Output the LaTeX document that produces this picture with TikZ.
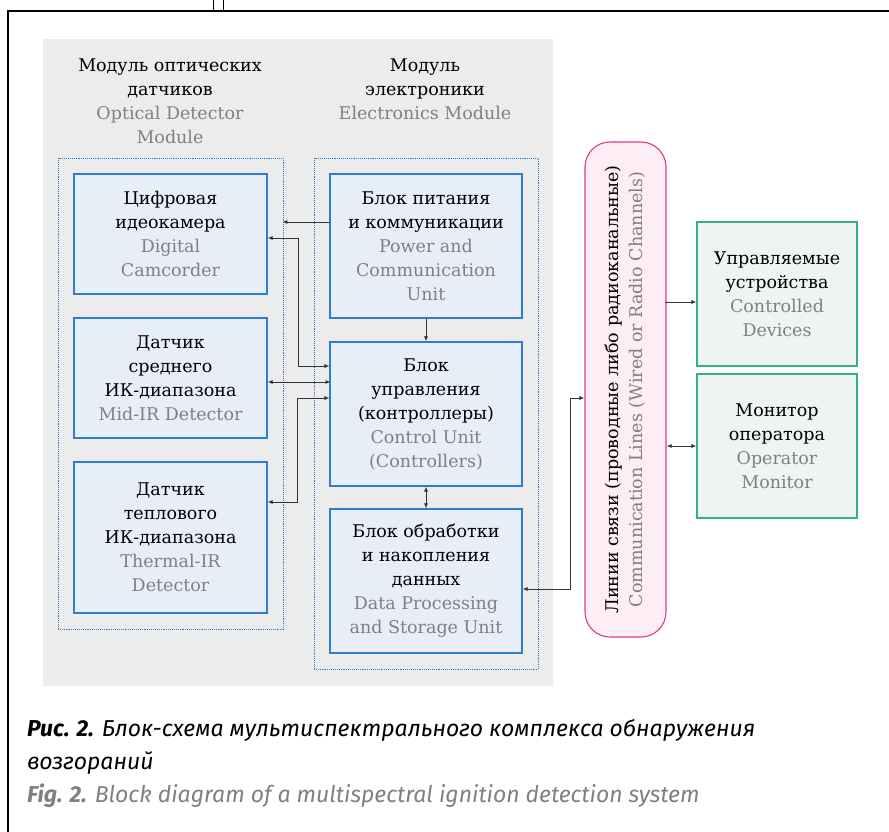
\documentclass[tikz,border=0pt]{standalone}
\usepackage{fontspec}
\setmainfont{DejaVu Serif}
\newfontfamily\capfont{Fira Sans}
\usetikzlibrary{arrows.meta}

\definecolor{blockfill}{HTML}{E8EEF8}
\definecolor{blockline}{HTML}{2F7FC8}
\definecolor{panelgray}{HTML}{ECECEC}
\definecolor{engray}{HTML}{808080}
\definecolor{devfill}{HTML}{EDF4F1}
\definecolor{devline}{HTML}{35B080}
\definecolor{commfill}{HTML}{FDEDF4}
\definecolor{commline}{HTML}{E0388C}
\definecolor{arrowgray}{HTML}{333333}

\newcommand{\eng}[1]{\textcolor{engray}{#1}}

\begin{document}
\begin{tikzpicture}[x=1pt, y=-1pt,
        font=\fontsize{17.5}{24}\selectfont,
        >={Latex[length=5pt, width=4pt]},
        block/.style={draw=blockline, fill=blockfill, line width=1.1pt,
            align=center, inner sep=0pt, minimum width=193pt},
        unitbox/.style={block, minimum width=192pt, minimum height=144pt},
        devbox/.style={draw=devline, fill=devfill, line width=1.1pt,
            align=center, inner sep=0pt, minimum width=160pt, minimum height=144pt},
        modbox/.style={draw=blockline, densely dotted, line width=0.9pt, inner sep=0pt},
        link/.style={arrowgray, line width=0.9pt}]
    \useasboundingbox (0,0) rectangle (889,832);
    % page frame
    \draw[line width=1.3pt] (889,11) -- (8,11) -- (8,832);
    \draw[line width=1pt] (213,0) -- (213,11) (223,0) -- (223,11);

    % grey panel with the two modules
    \fill[panelgray] (43,39) rectangle (553,686);
    \node[align=center] (optitle) at (170,101)
        {Модуль оптических\\датчиков\\\eng{Optical Detector}\\\eng{Module}};
    \node[align=center] (eltitle) at (425,89.5)
        {Модуль\\электроники\\\eng{Electronics Module}};
    \node[modbox, minimum width=225pt, minimum height=471pt] (optbox) at (170.5,393.5) {};
    \node[modbox, minimum width=224pt, minimum height=511pt] (elbox) at (426,413.5) {};

    \node[block, minimum height=120pt] (cam) at (170.5,234)
        {Цифровая\\идеокамера\\\eng{Digital}\\\eng{Camcorder}};
    \node[block, minimum height=120pt] (mid) at (170.5,378)
        {Датчик\\среднего\\ИК-диапазона\\\eng{Mid-IR Detector}};
    \node[block, minimum height=151pt] (therm) at (170.5,537.5)
        {Датчик\\теплового\\ИК-диапазона\\\eng{Thermal-IR}\\\eng{Detector}};

    \node[unitbox] (pwr) at (426,246)
        {Блок питания\\и коммуникации\\\eng{Power and}\\\eng{Communication}\\\eng{Unit}};
    \node[unitbox] (ctrl) at (426,414)
        {Блок\\управления\\(контроллеры)\\\eng{Control Unit}\\\eng{(Controllers)}};
    \node[unitbox] (data) at (426,581)
        {Блок обработки\\и накопления\\данных\\\eng{Data Processing}\\\eng{and Storage Unit}};

    % communication lines and outer devices
    \node[draw=commline, fill=commfill, line width=1.1pt, rounded corners=25pt,
        rotate=90, align=center, inner sep=0pt,
        minimum width=495pt, minimum height=81pt] (comm) at (625.5,389.5)
        {Линии связи (проводные либо радиоканальные)\\
         \eng{Communication Lines (Wired or Radio Channels)}};
    \node[devbox] (dev) at (777,294)
        {Управляемые\\устройства\\\eng{Controlled}\\\eng{Devices}};
    \node[devbox] (mon) at (777,446)
        {Монитор\\оператора\\\eng{Operator}\\\eng{Monitor}};

    % connectors
    \draw[link, ->] ([yshift=24pt]pwr.west) -- ++(-47,0);
    \draw[link, <->] ([yshift=-4pt]cam.east) -- ++(31,0) |- ([yshift=48pt]ctrl.west);
    \draw[link, <->] ([yshift=-4pt]mid.east) -- ++(63,0);
    \draw[link, <->] ([yshift=16pt]ctrl.west) -- ++(-32,0) |- ([yshift=35.5pt]therm.east);
    \draw[link, ->] (pwr) -- (ctrl);
    \draw[link, <->] (ctrl) -- (data);
    \draw[link, <->] ([yshift=-8pt]data.east) -- ++(48,0) |- ([yshift=-8.5pt]comm.north);
    \draw[link, <-] ([yshift=-8pt]dev.west) -- ++(-31,0);
    \draw[link, <->] (mon.west) -- (mon.west -| comm.south);

    % caption
    \node[anchor=north west, align=left, inner sep=0pt,
        font=\capfont\itshape\fontsize{23}{33}\selectfont] (caption) at (27,719)
        {\textbf{Рис. 2.} Блок-схема мультиспектрального комплекса обнаружения\\
         возгораний\\
         \textcolor{engray}{\textbf{Fig. 2.} Block diagram of a multispectral ignition detection system}};
\end{tikzpicture}
\end{document}
